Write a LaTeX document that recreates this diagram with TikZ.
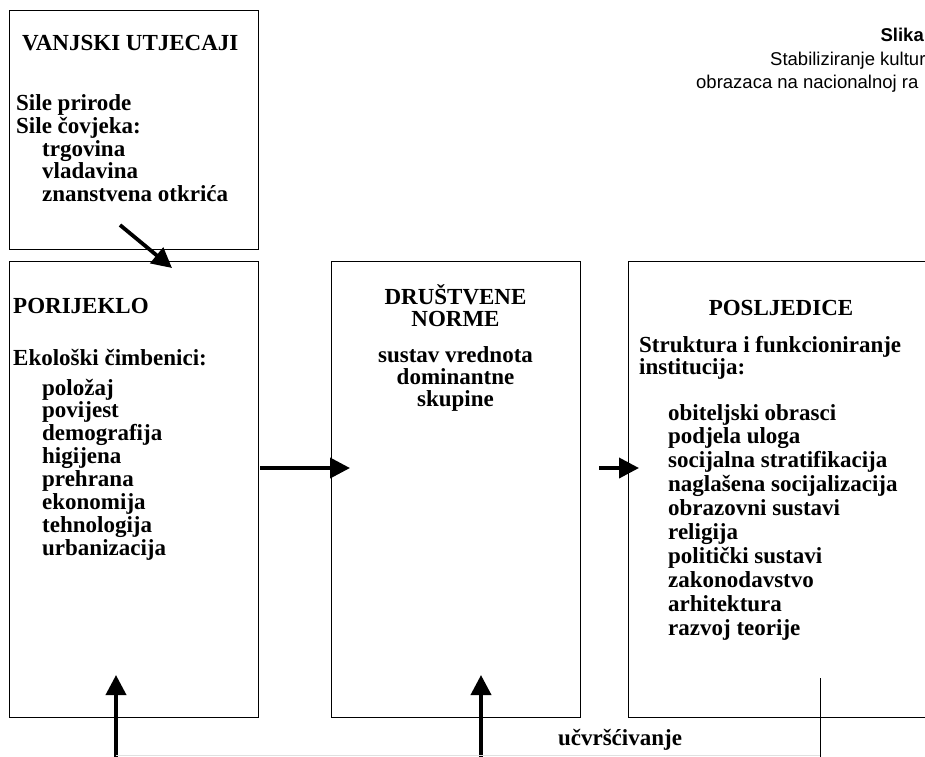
\documentclass[tikz,border=0pt]{standalone}
\usepackage{fontspec}
\setmainfont{Liberation Serif}
\newfontfamily\capfont{Liberation Sans}
\usetikzlibrary{arrows.meta}
\tikzset{
  box/.style={draw=black, line width=1pt, inner sep=0pt, anchor=north west},
  txt/.style={anchor=base west, inner sep=0pt, font=\fontsize{23}{23}\selectfont\bfseries},
  ctxt/.style={anchor=base, inner sep=0pt, font=\fontsize{23}{23}\selectfont\bfseries},
  bigarrow/.style={line width=3.8pt, -{Triangle[length=20pt,width=20pt]}},
  thinline/.style={line width=1pt},
  captxt/.style={anchor=base west, inner sep=0pt, font=\capfont\fontsize{18.5}{18.5}\selectfont},
}
\begin{document}
\begin{tikzpicture}[x=1pt,y=-1pt]
\clip (0,0) rectangle (925,756);
\fill[white] (0,0) rectangle (925,756);
% boxes
\node[box, minimum width=249pt, minimum height=239pt] (ext) at (9,10) {};
\node[box, minimum width=249pt, minimum height=456pt] (por) at (9,261) {};
\node[box, minimum width=249pt, minimum height=456pt] (nor) at (331,261) {};
\node[box, minimum width=306pt, minimum height=456pt] (pos) at (628,261) {};
% caption
\node[captxt, anchor=base east, font=\capfont\fontsize{18.5}{18.5}\selectfont\bfseries] (c1) at (924,41) {Slika};
\node[captxt] (c2) at (770,65) {Stabiliziranje kultur};
\node[captxt] (c3) at (696,88) {obrazaca na nacionalnoj ra};
% box 0
\node[txt] (t0) at (22,50) {VANJSKI UTJECAJI};
\foreach \s/\x/\y [count=\i] in {Sile prirode/16/110, Sile čovjeka:/16/133, trgovina/42/156, vladavina/42/178.5, znanstvena otkrića/42/201}
  \node[txt] (e\i) at (\x,\y) {\s};
% box 1
\node[txt] (t1) at (13,313) {PORIJEKLO};
\node[txt] (t1b) at (13,365) {Ekološki čimbenici:};
\foreach \s [count=\i] in {položaj, povijest, demografija, higijena, prehrana, ekonomija, tehnologija, urbanizacija}
  \node[txt] (p\i) at (42,{395+22.9*(\i-1)}) {\s};
% box 2
\foreach \s/\y [count=\i] in {DRUŠTVENE/304, NORME/326, sustav vrednota/362, dominantne/384, skupine/406}
  \node[ctxt] (n\i) at (455.5,\y) {\s};
% box 3
\node[ctxt] (t3) at (781,315) {POSLJEDICE};
\node[txt] (t3a) at (639,352) {Struktura i funkcioniranje};
\node[txt] (t3b) at (639,374) {institucija:};
\foreach \s [count=\i] in {obiteljski obrasci, podjela uloga, socijalna stratifikacija, naglašena socijalizacija, obrazovni sustavi, religija, politički sustavi, zakonodavstvo, arhitektura, razvoj teorije}
  \node[txt] (q\i) at (668,{420+23.9*(\i-1)}) {\s};
% feedback label
\node[ctxt] (uc) at (620,745) {učvršćivanje};
% connectors
\coordinate (d1) at (120,225);
\coordinate (d2) at (172,268);
\draw[bigarrow] (d1) -- (d2);
\coordinate (h1a) at (260,468);
\coordinate (h1b) at (350,468);
\draw[bigarrow] (h1a) -- (h1b);
\coordinate (h2a) at (599,468);
\coordinate (h2b) at (639,468);
\draw[bigarrow] (h2a) -- (h2b);
\coordinate (v1a) at (116,760);
\coordinate (v1b) at (116,675);
\draw[bigarrow] (v1a) -- (v1b);
\coordinate (v2a) at (481,760);
\coordinate (v2b) at (481,675);
\draw[bigarrow] (v2a) -- (v2b);
\coordinate (f1) at (820,678);
\coordinate (f2) at (820,760);
\draw[thinline] (f1) -- (f2);
\coordinate (g1) at (116,755.5);
\coordinate (g2) at (820,755.5);
\draw[black!12, line width=1pt] (g1) -- (g2);
\end{tikzpicture}
\end{document}
